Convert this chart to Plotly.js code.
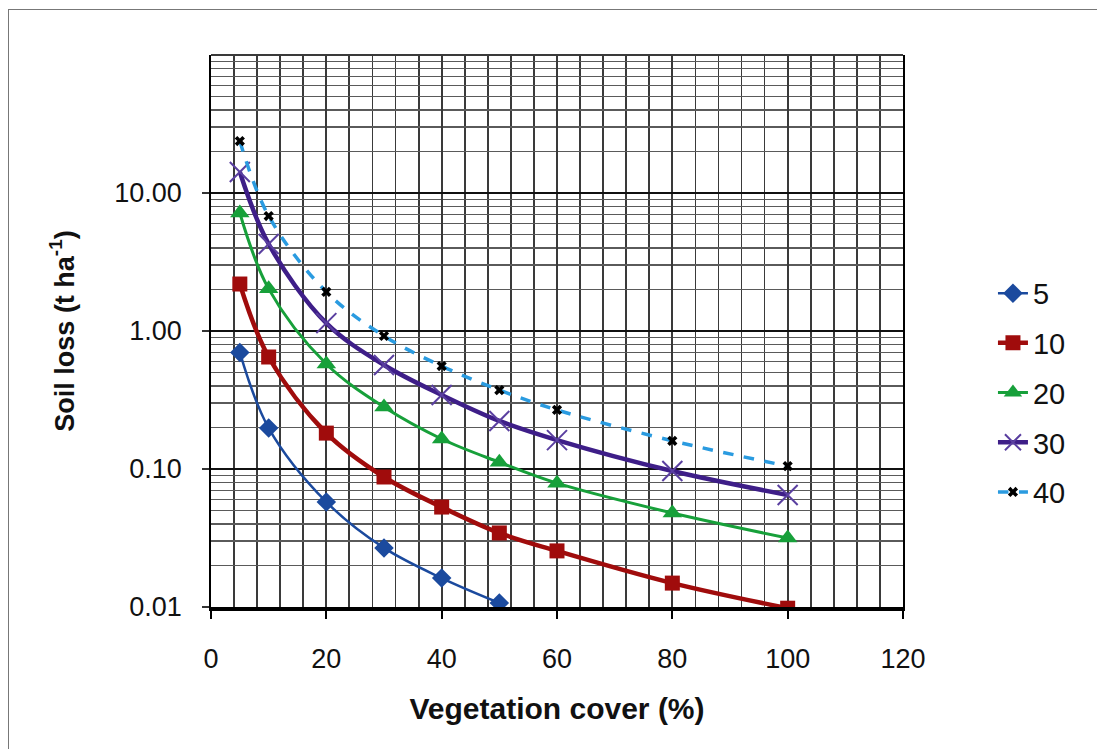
<!DOCTYPE html>
<html>
<head>
<meta charset="utf-8">
<script src="https://cdn.plot.ly/plotly-3.0.1.min.js"></script>
<style>
  html, body { margin: 0; padding: 0; background: #fff; overflow: hidden; }
  #chart { width: 1097px; height: 749px; }
  #frame { position: absolute; left: 8px; top: 9px; width: 1200px; height: 900px;
           border-left: 1.5px solid #777; border-top: 1.5px solid #777; pointer-events: none; }
</style>
</head>
<body>
<div id="chart"></div>
<div id="frame"></div>
<script>
// Vegetation cover (%)
const cover = [5, 10, 20, 30, 40, 50, 60, 80, 100];
const cover5 = [5, 10, 20, 30, 40, 50];

// Soil loss (t ha-1) per series
const loss5  = [0.70, 0.198, 0.0577, 0.0268, 0.0162, 0.0107];
const loss10 = [2.19, 0.648, 0.182, 0.0875, 0.053, 0.0344, 0.0255, 0.0149, 0.0098];
const loss20 = [7.16, 2.02, 0.577, 0.281, 0.165, 0.112, 0.079, 0.048, 0.0316];
const loss30 = [14.2, 4.27, 1.14, 0.567, 0.344, 0.223, 0.162, 0.0967, 0.0648];
const loss40 = [23.8, 6.81, 1.92, 0.92, 0.557, 0.373, 0.268, 0.160, 0.105];

const seriesNames = ['5', '10', '20', '30', '40'];
const yTickVals = [0.01, 0.1, 1, 10];
const yTickText = ['0.01', '0.10', '1.00', '10.00'];

const minorY = [];
[0.01, 0.1, 1, 10].forEach(d => { for (let k = 2; k <= 9; k++) minorY.push(+(d * k).toPrecision(3)); });

const FONT = 'Liberation Sans, Arial, sans-serif';

const traces = [
  { x: cover5, y: loss5, name: seriesNames[0], legendgroup: 'a',
    mode: 'lines+markers', line: { color: '#1B4A9E', width: 2.5, shape: 'spline', smoothing: 1 },
    marker: { symbol: 'diamond', size: 15, color: '#1B4A9E' } },
  { x: cover, y: loss10, name: seriesNames[1], legendgroup: 'b',
    mode: 'lines+markers', line: { color: '#A00C0C', width: 4.5, shape: 'spline', smoothing: 1 },
    marker: { symbol: 'square', size: 15, color: '#A00C0C' } },
  { x: cover, y: loss20, name: seriesNames[2], legendgroup: 'c',
    mode: 'lines+markers', line: { color: '#17A03A', width: 3, shape: 'spline', smoothing: 1 },
    marker: { symbol: 'triangle-up', size: 17, color: '#17A03A' } },
  { x: cover, y: loss30, name: seriesNames[3], legendgroup: 'd',
    mode: 'lines+markers', line: { color: '#3E1E88', width: 4.5, shape: 'spline', smoothing: 1 },
    marker: { symbol: 'x-thin-open', size: 20, color: '#5A3FA0', line: { width: 2, color: '#5A3FA0' } } },
  { x: cover, y: loss40, name: seriesNames[4], legendgroup: 'e',
    mode: 'lines+markers', line: { color: '#2A9BE0', width: 3.5, dash: 'dash', shape: 'spline', smoothing: 1 },
    marker: { symbol: 'x', size: 9, color: '#000' } }
];

const layout = {
  width: 1097, height: 749,
  margin: { l: 211, r: 194, t: 55, b: 142 },
  paper_bgcolor: '#fff', plot_bgcolor: '#fff',
  font: { family: FONT, color: '#111', size: 27 },
  showlegend: true,
  legend: { x: 1.13, y: 0.388, xanchor: 'left', yanchor: 'middle',
            font: { size: 29, family: FONT, color: '#111' }, tracegroupgap: 9,
            bgcolor: 'rgba(0,0,0,0)' },
  xaxis: {
    range: [0, 120], dtick: 20, tick0: 0,
    showgrid: true, gridcolor: '#3a3a3a', gridwidth: 1.8,
    minor: { dtick: 4, tick0: 0, showgrid: true, gridcolor: '#3a3a3a', gridwidth: 1.8 },
    ticks: 'outside', ticklen: 8, tickwidth: 2, tickcolor: '#000',
    showline: true, linecolor: '#000', linewidth: 3.5,
    zeroline: false,
    ticklabelstandoff: 17,
    tickfont: { size: 27, family: FONT, color: '#111' },
    title: { text: '<b>Vegetation cover (%)</b>', font: { size: 30, family: FONT, color: '#111' }, standoff: 26 }
  },
  yaxis: {
    type: 'log', range: [-2, 2],
    tickvals: yTickVals, ticktext: yTickText,
    showgrid: true, gridcolor: '#111', gridwidth: 2.2,
    minor: { tickvals: minorY, showgrid: true, gridcolor: '#5a5a5a', gridwidth: 1.5, ticks: '' },
    ticks: 'outside', ticklen: 7, tickwidth: 1.5, tickcolor: '#333',
    showline: true, linecolor: '#000', linewidth: 1.8, mirror: true,
    zeroline: false,
    ticklabelstandoff: 15,
    tickfont: { size: 27, family: FONT, color: '#111' },
    title: { text: '<b>Soil loss (t ha<sup>-1</sup>)</b>', font: { size: 27, family: FONT, color: '#111' }, standoff: 32 }
  },
  shapes: [
    { type: 'line', xref: 'paper', yref: 'paper', x0: 0, x1: 1, y0: 1, y1: 1,
      line: { color: '#3a3a3a', width: 1.8 } }
  ]
};

Plotly.newPlot('chart', traces, layout, { displayModeBar: false, staticPlot: true });
</script>
</body>
</html>
